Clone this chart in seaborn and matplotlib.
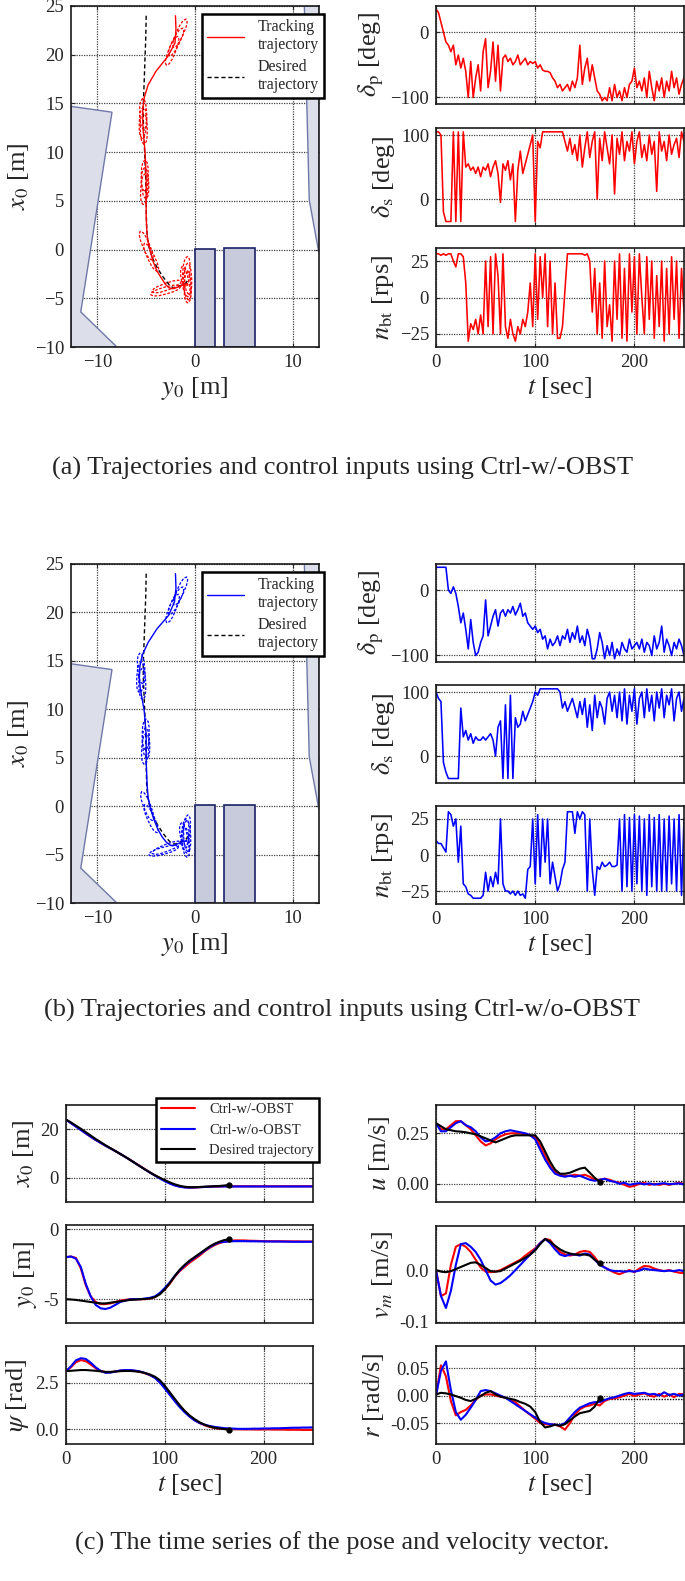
import numpy as np
import matplotlib
matplotlib.use("Agg")
import matplotlib.pyplot as plt
import seaborn as sns
from matplotlib.ticker import FormatStrFormatter
from matplotlib.lines import Line2D

# ---------------- data ----------------
# sample grids
t_ctrl = np.arange(0, 250.1, 2.5)   # control inputs
t_pose = np.arange(0, 250.1, 5.0)   # pose / velocity
t_des = np.arange(0, 165.1, 5.0)    # desired trajectory ends at t=165
t_hold = [165, 250]                 # dotted target line after the end

# control inputs, Ctrl-w/-OBST (red)
dp_a = [35, 30, 15, 0, -15, -20, -30, -20, -50, -35,
        -55, -40, -60, -100, -45, -100, -70, -50, -90, -30,
        -10, -85, -60, -15, -75, -20, -90, -40, -35, -45,
        -40, -50, -45, -35, -50, -45, -40, -50, -45, -48,
        -45, -55, -50, -58, -60, -60, -62, -70, -75, -85,
        -80, -90, -85, -80, -90, -75, -85, -70, -20, -80,
        -55, -40, -75, -50, -70, -90, -95, -105, -100, -105,
        -85, -105, -80, -100, -90, -105, -85, -100, -80, -75,
        -55, -85, -75, -90, -70, -100, -60, -85, -105, -75,
        -90, -70, -100, -75, -90, -60, -85, -70, -95, -80,
        -70]
ds_a = [105, 105, 100, -20, -35, -35, -35, 105, -35, 105,
        -35, 105, 50, 55, 45, 50, 40, 50, 35, 50,
        45, 55, 35, 50, 60, 40, -5, 55, 45, 60,
        30, 55, -35, 45, 75, 40, 55, 70, 85, 100,
        -35, 90, 80, 105, 105, 105, 105, 105, 105, 105,
        105, 105, 90, 75, 95, 70, 85, 60, 100, 50,
        80, 105, 65, 90, 105, 0, 95, 60, 105, 80,
        55, 100, 8, 95, 70, 105, 60, 90, 75, 105,
        55, 90, 105, 65, 85, 60, 100, 70, 90, 12,
        105, 75, 90, 60, 100, 70, 85, 95, 65, 105,
        90]
nbt_a = [30, 30, 29, 30, 29, 30, 30, 25, 21, 30,
         30, 28, 10, -30, -18, -22, -15, -25, -12, -25,
         25, -20, 28, -25, 30, 15, -25, 30, -20, -28,
         -15, -25, -30, -20, -25, -15, -20, -10, 10, -20,
         30, -15, 28, 0, 30, -20, 25, -25, 10, -28,
         -28, -20, 5, 30, 30, 30, 30, 30, 30, 30,
         29, 30, 25, -10, 20, -25, 10, -28, 25, -20,
         -5, -30, 25, -15, 30, -28, 20, -30, 30, -10,
         28, -25, 30, 0, -25, 28, -15, 25, -28, 15,
         -20, 25, -30, 20, -25, 28, -15, 25, -28, 20,
         -10]

# control inputs, Ctrl-w/o-OBST (blue)
dp_b = [35, 35, 35, 35, 35, 0, -5, 5, -5, -25,
        -50, -35, -60, -90, -45, -80, -100, -95, -80, -70,
        -15, -70, -55, -40, -30, -55, -35, -30, -40, -30,
        -35, -25, -38, -30, -20, -40, -35, -50, -55, -60,
        -55, -65, -60, -75, -70, -90, -75, -85, -80, -70,
        -85, -70, -75, -60, -80, -65, -75, -55, -80, -70,
        -85, -60, -75, -105, -105, -90, -65, -80, -105, -85,
        -100, -80, -105, -90, -100, -80, -90, -95, -75, -90,
        -85, -80, -90, -75, -95, -80, -85, -100, -70, -90,
        -80, -55, -95, -75, -85, -100, -80, -90, -75, -85,
        -100]
ds_b = [100, 90, 85, -10, -25, -35, -35, -35, -35, -35,
        75, 30, 40, 25, 35, 20, 30, 25, 25, 30,
        25, 30, 35, 25, 0, 45, 55, -35, 80, -35,
        95, -35, 60, 45, 50, 70, 55, 65, 75, 85,
        100, 95, 105, 105, 105, 105, 105, 105, 105, 105,
        100, 75, 85, 70, 80, 90, 75, 60, 85, 65,
        90, 45, 80, 40, 95, 60, 85, 75, 50, 90,
        100, 70, 95, 60, 100, 55, 105, 50, 95, 70,
        105, 50, 90, 100, 60, 105, 70, 95, 55, 100,
        75, 105, 60, 95, 80, 105, 55, 90, 100, 70,
        90]
nbt_b = [10, 8, 8, 5, 2, 30, 28, 20, 25, -5,
         20, -20, -22, -27, -28, -30, -30, -30, -30, -28,
         -12, -25, -15, -22, -12, -20, 25, -20, -25, -25,
         -27, -25, -28, -25, -28, -27, -30, -10, -8, 25,
         -20, 28, -15, 25, -5, 25, -20, -5, -15, -25,
         -20, -10, -5, 30, 30, 30, 15, 30, 25, 30,
         28, -25, 25, -10, -28, -8, -10, -5, -8, -7,
         -5, -8, -8, -7, 25, -25, 28, -22, 26, -25,
         28, -20, 27, -25, 25, -28, 28, -22, 26, -25,
         28, -25, 25, -25, 27, -20, 25, -25, 28, -28,
         25]

# pose and velocity (red = w/-OBST, blue = w/o-OBST)
x0_red = [24.0, 22.6, 21.2, 19.8, 18.3, 16.9, 15.6, 14.4, 13.2, 12.1,
          11.0, 9.8, 8.6, 7.4, 6.1, 4.8, 3.5, 2.2, 1.0, -0.1,
          -1.2, -2.2, -3.0, -3.6, -3.9, -4.0, -4.0, -3.9, -3.8, -3.7,
          -3.6, -3.6, -3.5, -3.5, -3.5, -3.5, -3.5, -3.5, -3.5, -3.5,
          -3.5, -3.5, -3.5, -3.5, -3.5, -3.5, -3.5, -3.5, -3.5, -3.5,
          -3.5]
x0_blue = [24.0, 22.5, 21.1, 19.7, 18.3, 16.9, 15.6, 14.4, 13.2, 12.1,
           11.0, 9.8, 8.6, 7.3, 6.0, 4.7, 3.4, 2.1, 0.9, -0.3,
           -1.4, -2.4, -3.2, -3.7, -4.0, -4.1, -4.0, -3.9, -3.8, -3.7,
           -3.6, -3.6, -3.6, -3.6, -3.6, -3.6, -3.6, -3.6, -3.6, -3.6,
           -3.6, -3.6, -3.6, -3.6, -3.6, -3.6, -3.6, -3.6, -3.6, -3.6,
           -3.6]
y0_red = [-2.0, -1.95, -2.05, -2.8, -4.0, -4.8, -5.2, -5.35, -5.35, -5.3,
          -5.2, -5.1, -5.05, -5.0, -5.0, -5.0, -5.0, -4.95, -4.85, -4.6,
          -4.3, -3.9, -3.4, -3.0, -2.7, -2.4, -2.15, -1.9, -1.6, -1.35,
          -1.15, -1.0, -0.9, -0.85, -0.8, -0.8, -0.8, -0.82, -0.83, -0.84,
          -0.85, -0.85, -0.86, -0.86, -0.86, -0.87, -0.87, -0.87, -0.88, -0.88,
          -0.88]
y0_blue = [-2.0, -1.95, -2.1, -2.7, -3.9, -4.8, -5.4, -5.65, -5.7, -5.6,
           -5.4, -5.2, -5.1, -5.0, -5.0, -5.0, -4.95, -4.9, -4.8, -4.55,
           -4.2, -3.8, -3.35, -2.95, -2.6, -2.3, -2.05, -1.8, -1.55, -1.3,
           -1.1, -0.95, -0.9, -0.88, -0.85, -0.85, -0.85, -0.86, -0.86, -0.87,
           -0.87, -0.88, -0.88, -0.88, -0.89, -0.89, -0.9, -0.9, -0.9, -0.9,
           -0.9]
psi_red = [3.14, 3.35, 3.62, 3.74, 3.68, 3.5, 3.3, 3.15, 3.08, 3.08,
           3.12, 3.16, 3.18, 3.18, 3.15, 3.1, 3.02, 2.92, 2.78, 2.55,
           2.25, 1.92, 1.6, 1.27, 0.97, 0.72, 0.5, 0.34, 0.22, 0.13,
           0.07, 0.03, 0.01, 0.0, 0.0, 0.0, -0.01, -0.01, -0.01, -0.02,
           -0.01, -0.01, -0.02, -0.02, -0.02, -0.03, -0.03, -0.03, -0.04, -0.04,
           -0.04]
psi_blue = [3.14, 3.4, 3.72, 3.84, 3.8, 3.6, 3.35, 3.15, 3.05, 3.06,
            3.12, 3.18, 3.2, 3.2, 3.17, 3.12, 3.04, 2.93, 2.77, 2.52,
            2.2, 1.86, 1.52, 1.2, 0.92, 0.68, 0.48, 0.34, 0.25, 0.18,
            0.13, 0.09, 0.06, 0.04, 0.03, 0.02, 0.02, 0.02, 0.03, 0.03,
            0.04, 0.04, 0.05, 0.05, 0.06, 0.07, 0.08, 0.08, 0.09, 0.09,
            0.1]
u_red = [0.30, 0.27, 0.27, 0.29, 0.31, 0.31, 0.29, 0.27, 0.24, 0.21,
         0.19, 0.20, 0.22, 0.235, 0.245, 0.25, 0.25, 0.25, 0.245, 0.24,
         0.23, 0.19, 0.14, 0.09, 0.06, 0.045, 0.04, 0.04, 0.045, 0.04,
         0.045, 0.035, 0.02, 0.02, 0.025, 0.02, 0.01, 0.005, -0.005, -0.015,
         -0.01, 0.0, 0.005, -0.005, 0.0, -0.005, 0.0, -0.005, 0.0, 0.005,
         0.0]
u_blue = [0.30, 0.26, 0.26, 0.28, 0.30, 0.31, 0.29, 0.28, 0.26, 0.23,
          0.21, 0.215, 0.23, 0.25, 0.26, 0.265, 0.26, 0.255, 0.25, 0.24,
          0.22, 0.17, 0.12, 0.08, 0.05, 0.04, 0.035, 0.04, 0.035, 0.04,
          0.03, 0.02, 0.015, 0.02, 0.025, 0.015, 0.01, 0.0, 0.005, -0.005,
          0.0, 0.003, -0.003, 0.002, -0.004, 0.0, 0.003, -0.002, 0.0, 0.002,
          -0.003]
v_red = [0.0, -0.05, -0.045, 0.01, 0.045, 0.05, 0.045, 0.035, 0.02, 0.005,
         -0.003, -0.004, -0.003, 0.0, 0.005, 0.01, 0.015, 0.02, 0.028, 0.035,
         0.042, 0.052, 0.06, 0.058, 0.045, 0.035, 0.03, 0.028, 0.03, 0.035,
         0.037, 0.035, 0.025, 0.012, 0.005, 0.0, -0.005, -0.008, -0.004, 0.0,
         -0.004, 0.003, 0.008, 0.007, 0.003, 0.0, -0.002, 0.0, -0.003, -0.005,
         -0.006]
v_blue = [0.0, -0.05, -0.073, -0.04, 0.01, 0.05, 0.052, 0.045, 0.035, 0.02,
          0.0, -0.02, -0.028, -0.025, -0.018, -0.01, 0.0, 0.01, 0.02, 0.03,
          0.04, 0.052, 0.06, 0.052, 0.04, 0.03, 0.027, 0.03, 0.03, 0.028,
          0.032, 0.03, 0.02, 0.01, 0.005, 0.0, -0.002, -0.002, -0.003, -0.002,
          -0.003, -0.001, 0.003, 0.001, 0.0, -0.001, -0.002, -0.001, -0.002, 0.0,
          -0.002]
r_red = [0.0, 0.055, 0.035, -0.01, -0.036, -0.03, -0.026, -0.018, -0.008, 0.0,
         0.002, 0.002, 0.0, -0.002, -0.004, -0.008, -0.012, -0.02, -0.028, -0.035,
         -0.042, -0.05, -0.052, -0.053, -0.053, -0.056, -0.062, -0.05, -0.035, -0.025,
         -0.02, -0.018, -0.015, -0.018, -0.01, -0.006, -0.005, -0.003, 0.0, 0.003,
         -0.001, 0.002, 0.004, 0.0, -0.002, 0.003, -0.002, 0.002, -0.003, 0.003,
         0.002]
r_blue = [0.0, 0.045, 0.062, 0.01, -0.03, -0.044, -0.035, -0.022, -0.008, 0.008,
          0.01, 0.008, 0.004, 0.0, -0.004, -0.01, -0.016, -0.022, -0.028, -0.034,
          -0.04, -0.046, -0.05, -0.052, -0.053, -0.054, -0.05, -0.04, -0.03, -0.022,
          -0.018, -0.014, -0.012, -0.012, -0.008, -0.005, -0.003, 0.0, 0.003, 0.005,
          0.003, 0.004, 0.005, 0.002, 0.003, 0.0, 0.006, 0.001, 0.003, 0.0,
          0.002]

# desired trajectory (t = 0..165)
x0_des = [24.0, 22.8, 21.5, 20.2, 18.8, 17.4, 16.0, 14.7, 13.4, 12.2,
          11.0, 9.8, 8.6, 7.3, 6.0, 4.7, 3.4, 2.2, 1.0, 0.0,
          -1.0, -1.9, -2.7, -3.3, -3.7, -3.9, -3.9, -3.8, -3.7, -3.6,
          -3.5, -3.4, -3.2, -3.0]
y0_des = [-5.0, -5.02, -5.05, -5.1, -5.15, -5.2, -5.25, -5.3, -5.3, -5.25,
          -5.2, -5.15, -5.1, -5.05, -5.03, -5.0, -4.98, -4.95, -4.85, -4.65,
          -4.3, -3.85, -3.35, -2.9, -2.55, -2.25, -2.0, -1.75, -1.5, -1.25,
          -1.05, -0.9, -0.78, -0.72]
psi_des = [3.14, 3.16, 3.18, 3.2, 3.2, 3.18, 3.16, 3.13, 3.1, 3.1,
           3.12, 3.14, 3.15, 3.15, 3.13, 3.1, 3.04, 2.96, 2.84, 2.65,
           2.35, 2.0, 1.65, 1.3, 1.0, 0.75, 0.55, 0.38, 0.25, 0.15,
           0.08, 0.04, 0.01, -0.02]
u_des = [0.30, 0.285, 0.27, 0.265, 0.26, 0.258, 0.255, 0.25, 0.245, 0.235,
         0.225, 0.215, 0.205, 0.215, 0.225, 0.235, 0.24, 0.24, 0.24, 0.24,
         0.24, 0.21, 0.16, 0.11, 0.07, 0.05, 0.05, 0.055, 0.065, 0.075,
         0.08, 0.055, 0.03, 0.01]
v_des = [0.0, -0.003, -0.004, -0.002, 0.002, 0.006, 0.01, 0.014, 0.015, 0.01,
         0.004, -0.002, -0.003, -0.002, 0.003, 0.008, 0.013, 0.018, 0.024, 0.03,
         0.038, 0.05, 0.06, 0.055, 0.047, 0.04, 0.035, 0.032, 0.03, 0.03,
         0.03, 0.028, 0.02, 0.013]
r_des = [0.002, 0.005, 0.004, 0.002, -0.001, -0.004, -0.008, -0.01, -0.006, -0.001,
         0.005, 0.008, 0.002, -0.002, -0.004, -0.006, -0.008, -0.012, -0.015, -0.02,
         -0.03, -0.048, -0.058, -0.056, -0.053, -0.055, -0.052, -0.045, -0.038, -0.032,
         -0.03, -0.028, -0.02, -0.005]
# target values held after the desired trajectory ends
x0_goal, y0_goal, psi_goal = -3.4, -0.85, 0.0
u_goal, v_goal, r_goal = 0.015, 0.015, -0.007

# ship snapshots drawn on the maps (centre x, centre y, heading)
snap_a_x = [22.2, 21.3, 20.4, 13.9, 13.0, 12.4, 7.6, 6.8, 6.2, 0.4, -0.8,
            -3.8, -4.2, -2.3, -3.0, -3.6, -3.3, -3.9]
snap_a_y = [-1.55, -1.95, -2.35, -5.3, -5.35, -5.25, -5.15, -5.1, -5.2, -5.0, -4.5,
            -2.9, -3.0, -0.9, -0.7, -0.8, -1.0, -0.75]
snap_a_psi = [3.56, 3.6, 3.52, 3.1, 3.18, 3.12, 3.16, 3.1, 3.2, 2.75, 2.7,
              1.23, 1.3, 3.22, 3.1, 3.05, 2.95, 3.14]
snap_b_x = [22.2, 21.2, 20.4, 14.2, 13.3, 12.6, 7.4, 6.5, 5.9, 0.0, -1.3,
            -4.3, -4.6, -2.5, -3.1, -3.7, -3.3, -2.9]
snap_b_y = [-1.5, -1.95, -2.3, -5.5, -5.6, -5.4, -5.05, -5.0, -5.1, -4.9, -4.5,
            -2.9, -3.2, -0.85, -0.8, -0.95, -1.1, -1.0]
snap_b_psi = [3.56, 3.6, 3.52, 3.05, 3.2, 3.12, 3.16, 3.1, 3.2, 2.78, 2.72,
              1.2, 1.3, 3.22, 3.1, 3.05, 2.95, 3.2]
hull_along = [1.6, 1.35, 0.8, 0.0, -0.8, -1.35, -1.6, -1.35, -0.8, 0.0, 0.8, 1.35, 1.6]
hull_across = [0.0, 0.22, 0.33, 0.36, 0.33, 0.22, 0.0, -0.22, -0.33, -0.36, -0.33, -0.22, 0.0]

# obstacles on the map (y = horizontal, x = vertical)
wall_left_y = [-12.7, -8.5, -11.7, -8.0, -12.7]
wall_left_x = [14.7, 14.1, -6.4, -10.0, -10.0]
wall_right_y = [11.2, 11.7, 12.7, 12.7]
wall_right_x = [25.0, 5.1, -0.4, 25.0]
berth_y_lo = [0.0, 2.95]
berth_y_hi = [2.05, 6.1]
berth_x_top = [0.1, 0.15]

RED, BLUE = "#ff0000", "#0000ff"

# ---------------- style ----------------
sns.set_style("ticks")
plt.rcParams["font.family"] = ["Liberation Serif", "DejaVu Serif"]
plt.rcParams["mathtext.fontset"] = "stix"
TICK_FS, LAB_FS = 13.5, 19

W, H = 685, 1581
fig = plt.figure(figsize=(W / 100, H / 100), dpi=100)


def add_ax(l, t, r, b):
    return fig.add_axes([l / W, 1 - b / H, (r - l) / W, (b - t) / H])


def style(ax):
    ax.set_axisbelow(True)
    ax.grid(True, color="0.25", linestyle=(0, (1, 1)), linewidth=0.9)
    ax.tick_params(direction="in", top=True, right=True, length=3, width=0.8,
                   labelsize=TICK_FS, pad=5)
    for s in ax.spines.values():
        s.set_linewidth(1.2)
        s.set_color("0.1")


def draw_map(ax, xs, ys, sx, sy, spsi, color):
    ax.fill(wall_left_y, wall_left_x, facecolor="#dcdfea", edgecolor="#7078a8", lw=1.0, zorder=1)
    ax.fill(wall_right_y, wall_right_x, facecolor="#dcdfea", edgecolor="#7078a8", lw=1.0, zorder=1)
    for lo, hi, top in zip(berth_y_lo, berth_y_hi, berth_x_top):
        ax.fill([lo, hi, hi, lo], [-10, -10, top, top], facecolor="#c8cbdc",
                edgecolor="#1c2166", lw=1.2, zorder=1)
    sns.lineplot(x=y0_des, y=x0_des, sort=False, estimator=None, ax=ax,
                 color="black", lw=1.0, linestyle=(0, (3, 2)), zorder=3)
    sns.lineplot(x=ys, y=xs, sort=False, estimator=None, ax=ax, color=color, lw=1.0, zorder=4)
    a = np.array(hull_along)
    b = np.array(hull_across)
    for xc, yc, p in zip(sx, sy, spsi):
        hx = xc + a * np.cos(p) - b * np.sin(p)
        hy = yc + a * np.sin(p) + b * np.cos(p)
        ax.plot(hy, hx, color=color, lw=0.9, linestyle=(0, (2.2, 1.3)), zorder=4)
    ax.set_xlim(-12.7, 12.7)
    ax.set_ylim(-10, 25)
    ax.set_xticks([-10, 0, 10])
    ax.set_yticks([-10, -5, 0, 5, 10, 15, 20, 25])
    style(ax)
    ax.set_xlabel(r"$y_0$ [m]", fontsize=LAB_FS, labelpad=3)
    ax.set_ylabel(r"$x_0$ [m]", fontsize=LAB_FS, labelpad=3)
    handles = [Line2D([], [], color=color, lw=1.0),
               Line2D([], [], color="black", lw=1.0, linestyle=(0, (3, 2)))]
    leg = ax.legend(handles, ["Tracking\ntrajectory", "Desired\ntrajectory"],
                    loc="upper right", fontsize=11.5, fancybox=False, framealpha=1,
                    edgecolor="black", handlelength=2.3, borderpad=0.3,
                    labelspacing=0.35, borderaxespad=0, handletextpad=0.9,
                    bbox_to_anchor=(1.02, 0.976))
    for txt in leg.get_texts():
        txt.set_multialignment("left")
    leg.get_frame().set_linewidth(1.8)
    leg.set_zorder(10)


def draw_ctrl(axes, dp, ds, nbt, color):
    series = [dp, ds, nbt]
    labels = [r"$\delta_{\mathrm{p}}$ [deg]", r"$\delta_{\mathrm{s}}$ [deg]",
              r"$n_{\mathrm{bt}}$ [rps]"]
    lims = [(-110, 40), (-42, 111), (-34, 34)]
    ticks = [[-100, 0], [0, 100], [-25, 0, 25]]
    for ax, s, lab, lim, tk in zip(axes, series, labels, lims, ticks):
        sns.lineplot(x=t_ctrl, y=s, ax=ax, color=color, lw=1.15, estimator=None)
        ax.set_xlim(0, 250)
        ax.set_ylim(*lim)
        ax.set_yticks(tk)
        ax.set_xticks([0, 100, 200])
        style(ax)
        ax.set_ylabel(lab, fontsize=LAB_FS, labelpad=3)
        ax.set_xlabel("")
    for ax in axes[:-1]:
        ax.tick_params(labelbottom=False)
    axes[-1].set_xlabel(r"$t$ [sec]", fontsize=LAB_FS, labelpad=3)


CAP_FS = 19

# ---- (a) ----
ax_map_a = add_ax(71, 6, 319, 347)
draw_map(ax_map_a, x0_red, y0_red, snap_a_x, snap_a_y, snap_a_psi, RED)
draw_ctrl([add_ax(436, 6, 684, 104), add_ax(436, 128, 684, 226), add_ax(436, 248, 684, 347)],
          dp_a, ds_a, nbt_a, RED)
fig.text(0.5, 1 - 468 / H, "(a) Trajectories and control inputs using Ctrl-w/-OBST",
         ha="center", va="center", fontsize=CAP_FS)

# ---- (b) ----
ax_map_b = add_ax(71, 564, 319, 903)
draw_map(ax_map_b, x0_blue, y0_blue, snap_b_x, snap_b_y, snap_b_psi, BLUE)
draw_ctrl([add_ax(436, 564, 684, 662), add_ax(436, 685, 684, 783), add_ax(436, 806, 684, 904)],
          dp_b, ds_b, nbt_b, BLUE)
fig.text(0.5, 1 - 1010 / H, "(b) Trajectories and control inputs using Ctrl-w/o-OBST",
         ha="center", va="center", fontsize=CAP_FS)

# ---- (c) ----
pose_panels = [
    (add_ax(66, 1105, 313, 1202), x0_red, x0_blue, x0_des, x0_goal, r"$x_0$ [m]", (-10, 30), [0, 20], "%d"),
    (add_ax(66, 1225, 313, 1323), y0_red, y0_blue, y0_des, y0_goal, r"$y_0$ [m]", (-6.7, 0.3), [-5, 0], "%d"),
    (add_ax(66, 1346, 313, 1444), psi_red, psi_blue, psi_des, psi_goal, r"$\psi$ [rad]", (-0.8, 4.5), [0, 2.5], "%.1f"),
    (add_ax(436, 1105, 684, 1202), u_red, u_blue, u_des, u_goal, r"$u$ [m/s]", (-0.09, 0.39), [0, 0.25], "%.2f"),
    (add_ax(436, 1226, 684, 1323), v_red, v_blue, v_des, v_goal, r"$v_m$ [m/s]", (-0.102, 0.085), [-0.1, 0], "%.1f"),
    (add_ax(436, 1346, 684, 1444), r_red, r_blue, r_des, r_goal, r"$r$ [rad/s]", (-0.088, 0.09), [-0.05, 0, 0.05], "%.2f"),
]
for i, (ax, red, blue, des, goal, lab, lim, tk, fmt) in enumerate(pose_panels):
    sns.lineplot(x=t_hold, y=[goal, goal], ax=ax, color="black", lw=1.0,
                 linestyle=(0, (1, 1)), estimator=None)
    sns.lineplot(x=t_pose, y=red, ax=ax, color=RED, lw=1.5, estimator=None)
    sns.lineplot(x=t_pose, y=blue, ax=ax, color=BLUE, lw=1.5, estimator=None)
    sns.lineplot(x=t_des, y=des, ax=ax, color="black", lw=1.5, estimator=None)
    ax.plot(t_des[-1], des[-1], "o", color="black", ms=3.5)
    ax.set_xlim(0, 250)
    ax.set_ylim(*lim)
    ax.set_yticks(tk)
    ax.set_xticks([0, 100, 200])
    ax.yaxis.set_major_formatter(FormatStrFormatter(fmt))
    style(ax)
    ax.set_ylabel(lab, fontsize=LAB_FS, labelpad=3)
    if i in (2, 5):
        ax.set_xlabel(r"$t$ [sec]", fontsize=LAB_FS, labelpad=3)
    else:
        ax.set_xlabel("")
        ax.tick_params(labelbottom=False)

ax_x0 = pose_panels[0][0]
leg = ax_x0.legend([Line2D([], [], color=RED, lw=1.5), Line2D([], [], color=BLUE, lw=1.5),
                    Line2D([], [], color="black", lw=1.5)],
                   ["Ctrl-w/-OBST", "Ctrl-w/o-OBST", "Desired trajectory"],
                   loc="upper right", fontsize=10.5, fancybox=False, framealpha=1,
                   edgecolor="black", handlelength=2.3, borderpad=0.35, labelspacing=0.5,
                   borderaxespad=0, handletextpad=1.0, bbox_to_anchor=(1.024, 1.072))
leg.get_frame().set_linewidth(1.8)

fig.text(0.5, 1 - 1543 / H, "(c) The time series of the pose and velocity vector.",
         ha="center", va="center", fontsize=CAP_FS)

fig.savefig("out.png", dpi=100)
